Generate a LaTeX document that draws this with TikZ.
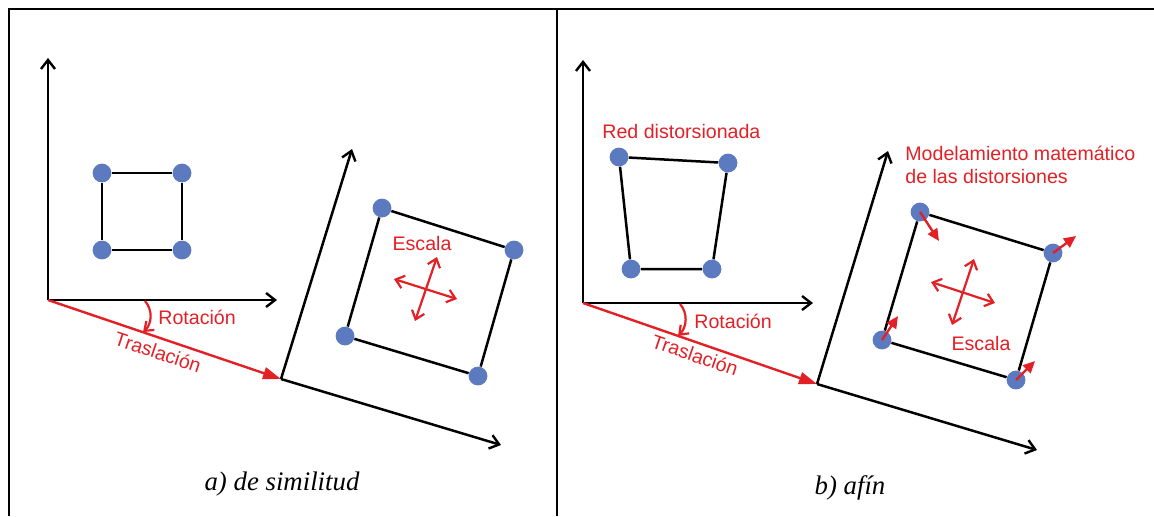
\documentclass[tikz,border=0pt]{standalone}
\usepackage{fontspec}
\setmainfont{Liberation Serif}
\newfontfamily\labfont{Liberation Sans}
\usetikzlibrary{arrows.meta}
\definecolor{labred}{RGB}{226,32,38}
\definecolor{dotblue}{RGB}{92,122,192}
\begin{document}
\begin{tikzpicture}[x=0.5pt,y=-0.5pt,
  frame/.style={line width=1.1pt,black},
  axis/.style={line width=1.25pt,black,-{Straight Barb[length=4.5pt,width=7pt,line width=1.2pt]}},
  edge/.style={line width=1.25pt,black},
  dot/.style={circle,fill=dotblue,minimum size=9.4pt,inner sep=0pt},
  trans/.style={line width=1.2pt,labred,-{Triangle[length=9pt,width=6pt]}},
  rot/.style={line width=1.1pt,labred,-{Straight Barb[length=4pt,width=6pt,line width=1.1pt]}},
  scalearr/.style={line width=1.1pt,labred,{Straight Barb[length=4pt,width=6.5pt,line width=1.1pt]}-{Straight Barb[length=4pt,width=6.5pt,line width=1.1pt]}},
  distarr/.style={line width=1.2pt,labred,-{Triangle[length=6pt,width=5.5pt]}},
  lab/.style={text=labred,font=\labfont\fontsize{9.8pt}{11.5pt}\selectfont,inner sep=0pt},
  caption/.style={font=\fontsize{13.4pt}{15pt}\selectfont\itshape,inner sep=0pt}]
\useasboundingbox (0,0) rectangle (1154,516);
% frame
\draw[frame] (9,516) -- (9,9) -- (1154,9);
\draw[frame] (557,9) -- (557,516);

% ---------- panel a ----------
\coordinate (oa) at (48,300);
\coordinate (ya) at (48,58);
\coordinate (xa) at (277,300);
\coordinate (ra) at (281,379);
\coordinate (rya) at (352,149);
\coordinate (rxa) at (501,445);
\draw[axis] (oa) -- (ya);
\draw[axis] (oa) -- (xa);
\draw[axis] (ra) -- (rya);
\draw[axis] (ra) -- (rxa);
\draw[trans] (oa) -- (ra);
\coordinate (rsa) at (145,301);
\coordinate (rea) at (143,332);
\draw[rot] (rsa) .. controls (153,310) and (152,324) .. (rea);
\node[lab,anchor=west] (rota) at (158,317) {Rotación};
\node[lab,rotate=-18.4] (trla) at (158,352) {Traslación};

\node[dot] (a1) at (102,173) {};
\node[dot] (a2) at (182,173) {};
\node[dot] (a3) at (182,250) {};
\node[dot] (a4) at (102,250) {};
\draw[edge] (a1) -- (a2) -- (a3) -- (a4) -- (a1);

\node[dot] (b1) at (382,208) {};
\node[dot] (b2) at (514,250) {};
\node[dot] (b3) at (478,376) {};
\node[dot] (b4) at (345,336) {};
\draw[edge] (b1) -- (b2) -- (b3) -- (b4) -- (b1);
\node[lab] (esca) at (422,243) {Escala};
\coordinate (ha1) at (394,279);
\coordinate (ha2) at (457,299);
\coordinate (va1) at (437,257);
\coordinate (va2) at (415,321);
\draw[scalearr] (ha1) -- (ha2);
\draw[scalearr] (va1) -- (va2);
\node[caption] (capa) at (282,484) {a) de similitud};

% ---------- panel b ----------
\coordinate (ob) at (583,303);
\coordinate (yb) at (583,60);
\coordinate (xb) at (813,303);
\coordinate (rb) at (817,384);
\coordinate (ryb) at (888,151);
\coordinate (rxb) at (1037,450);
\draw[axis] (ob) -- (yb);
\draw[axis] (ob) -- (xb);
\draw[axis] (rb) -- (ryb);
\draw[axis] (rb) -- (rxb);
\draw[trans] (ob) -- (rb);
\coordinate (rsb) at (680,304);
\coordinate (reb) at (678,336);
\draw[rot] (rsb) .. controls (688,313) and (687,327) .. (reb);
\node[lab,anchor=west] (rotb) at (694,321) {Rotación};
\node[lab,rotate=-18.9] (trlb) at (695,355) {Traslación};

\node[lab,anchor=west] (redd) at (602,131) {Red distorsionada};
\node[dot] (c1) at (619,157) {};
\node[dot] (c2) at (728,163) {};
\node[dot] (c3) at (712,269) {};
\node[dot] (c4) at (631,269) {};
\draw[edge] (c1) -- (c2) -- (c3) -- (c4) -- (c1);

\node[lab,anchor=north west,align=left] (mode) at (905,146) {Modelamiento matemático\\de las distorsiones};
\node[dot] (d1) at (920,212) {};
\node[dot] (d2) at (1053,253) {};
\node[dot] (d3) at (1016,380) {};
\node[dot] (d4) at (882,340) {};
\draw[edge] (d1) -- (d2) -- (d3) -- (d4) -- (d1);
\coordinate (t1) at (939,241);
\coordinate (t2) at (1076,236);
\coordinate (t3) at (1035,361);
\coordinate (t4) at (898,316);
\draw[distarr] (d1.center) -- (t1);
\draw[distarr] (d2.center) -- (t2);
\draw[distarr] (d3.center) -- (t3);
\draw[distarr] (d4.center) -- (t4);
\coordinate (hb1) at (931,282);
\coordinate (hb2) at (995,303);
\coordinate (vb1) at (974,259);
\coordinate (vb2) at (952,325);
\draw[scalearr] (hb1) -- (hb2);
\draw[scalearr] (vb1) -- (vb2);
\node[lab] (escb) at (981,343) {Escala};
\node[caption] (capb) at (850,488) {b) afín};
\end{tikzpicture}
\end{document}
